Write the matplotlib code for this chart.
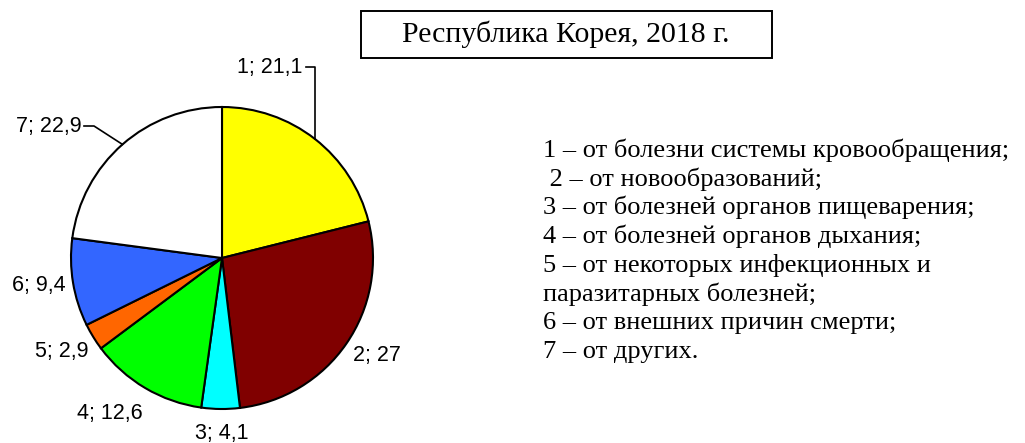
import numpy as np
import matplotlib.pyplot as plt
from matplotlib.patches import Rectangle

# Structure of mortality by cause, Republic of Korea 2018 (%)
cause_ids = [1, 2, 3, 4, 5, 6, 7]
shares = [21.1, 27, 4.1, 12.6, 2.9, 9.4, 22.9]
share_text = ['21,1', '27', '4,1', '12,6', '2,9', '9,4', '22,9']
colors = ['#FFFF00', '#800000', '#00FFFF', '#00FF00', '#FF6600', '#3366FF', '#FFFFFF']

title = 'Республика Корея, 2018 г.'
legend_lines = [
    '1 – от болезни системы кровообращения;',
    ' 2 – от новообразований;',
    '3 – от болезней органов пищеварения;',
    '4 – от болезней органов дыхания;',
    '5 – от некоторых инфекционных и',
    'паразитарных болезней;',
    '6 – от внешних причин смерти;',
    '7 – от других.',
]

W, H = 1025, 443
fig = plt.figure(figsize=(W / 100, H / 100), dpi=100)
ax = fig.add_axes([0, 0, 1, 1])

# work in pixel units, y measured from the top of the picture
def py(y):
    return H - y

cx, cy, r = 222, 258, 151

wedges, _ = ax.pie(shares, colors=colors, startangle=90, counterclock=False,
                   radius=r, center=(cx, py(cy)), frame=True,
                   wedgeprops=dict(edgecolor='black', linewidth=1.5))
ax.set_xlim(0, W)
ax.set_ylim(0, H)
ax.set_aspect('equal')
ax.axis('off')

# mid angle of each slice (clockwise from top)
cum = np.concatenate([[0], np.cumsum(shares)]) / np.sum(shares) * 2 * np.pi
mids = (cum[:-1] + cum[1:]) / 2

labels = [f'{c}; {s}' for c, s in zip(cause_ids, share_text)]
# label anchors (pixels from top-left) and alignment
lab_pos = {0: (302, 67, 'right'), 1: (377, 355, 'center'), 2: (222, 433, 'center'),
           3: (110, 413, 'center'), 4: (62, 352, 'center'), 5: (39, 285, 'center'),
           6: (82, 126, 'right')}
for i, txt in enumerate(labels):
    x, y, ha = lab_pos[i]
    ax.text(x, py(y), txt, ha=ha, va='center', family='Liberation Sans',
            fontsize=15.5, color='black')

# leader lines for labels 1 and 7
for i in [0, 6]:
    ex = cx + r * np.sin(mids[i])
    ey = cy - r * np.cos(mids[i])
    x, y, _ = lab_pos[i]
    if i == 0:
        xs, ys = [x + 4, ex, ex], [y, y, ey]
    else:
        xs, ys = [x + 2, x + 12, ex], [y, y, ey]
    ax.plot(xs, [py(v) for v in ys], color='black', lw=1.2)

# title box
ax.add_patch(Rectangle((361, py(58)), 411, 47, fill=False, edgecolor='black', lw=1.4))
ax.text(566, py(34), title, ha='center', va='center', family='Liberation Serif',
        fontsize=21.5, color='black')

# legend text
for k, line in enumerate(legend_lines):
    ax.text(543, py(150 + k * 28.8), line, ha='left', va='center',
            family='Liberation Serif', fontsize=19, color='black')

fig.savefig('out.png', dpi=100)
